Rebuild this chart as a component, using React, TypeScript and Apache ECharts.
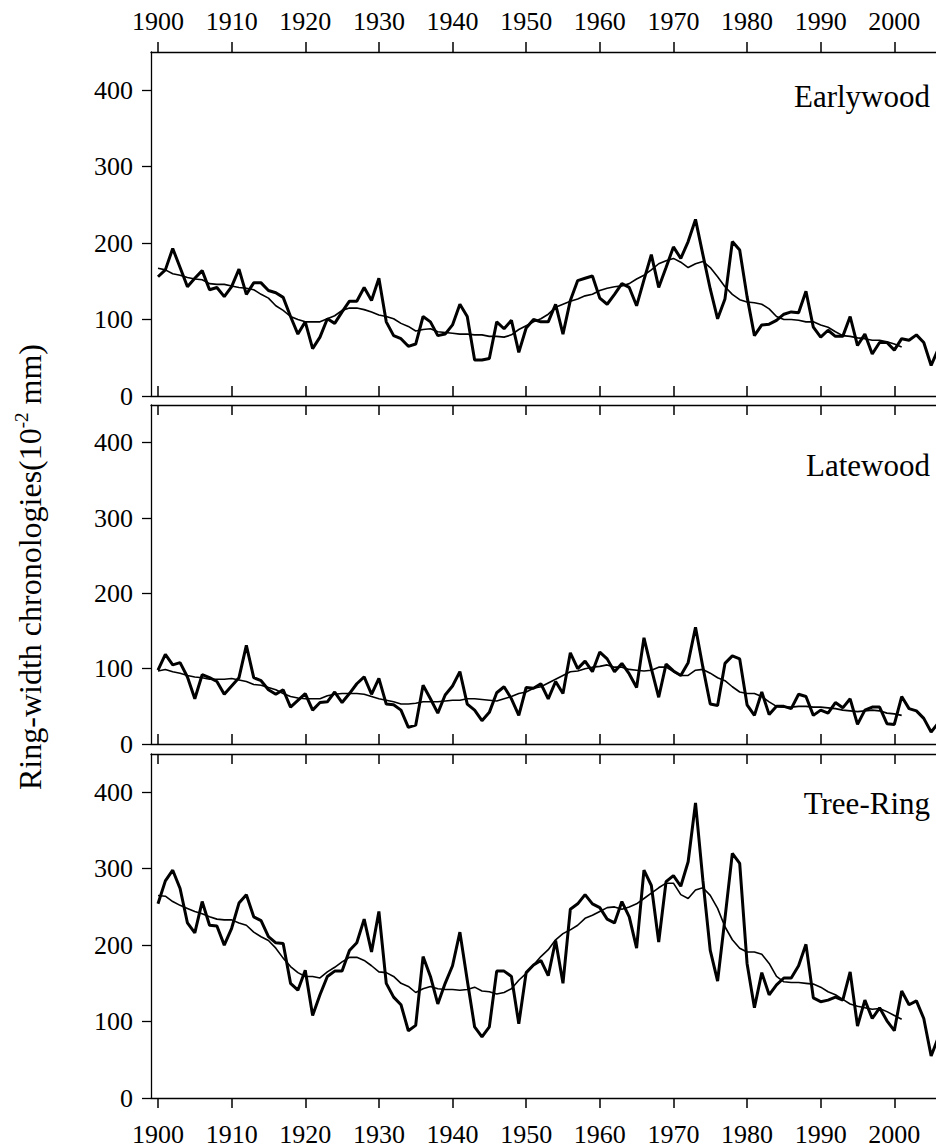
import React, { useEffect, useRef } from "react";
import * as echarts from "echarts";

const FIRST_YEAR = 1900;
const X_MIN = 1899.05;
const X_MAX = 2005.66;
const TICK_YEARS = [1900, 1910, 1920, 1930, 1940, 1950, 1960, 1970, 1980, 1990, 2000];
const Y_TICKS = [0, 100, 200, 300, 400];

// Raw ring-width chronologies 1900-2006
const earlywood = [
  156, 165, 193, 168, 143, 154, 164, 139, 142, 130,
  143, 166, 133, 148, 148, 138, 135, 129, 104, 81,
  97, 62, 77, 101, 95, 110, 124, 124, 142, 125,
  154, 97, 79, 75, 65, 68, 104, 97, 79, 81,
  93, 120, 104, 47, 47, 49, 97, 88, 99, 57,
  89, 100, 97, 97, 120, 81, 125, 151, 154, 157,
  128, 120, 133, 147, 142, 118, 152, 185, 142, 168,
  195, 180, 202, 231, 185, 140, 101, 127, 202, 191,
  130, 79, 93, 94, 99, 107, 110, 109, 137, 90,
  77, 86, 78, 78, 104, 66, 81, 55, 70, 70,
  60, 75, 73, 80, 70, 40, 62,
];
const earlywoodSmooth = [
  167, 165, 160, 158, 155, 153, 152, 147, 146, 146,
  144, 142, 141, 139, 133, 128, 118, 112, 104, 100,
  97, 97, 97, 101, 105, 112, 115, 115, 113, 110,
  106, 104, 101, 95, 91, 85, 87, 88, 84, 83,
  82, 81, 81, 80, 80, 78, 78, 77, 80, 87,
  92, 97, 101, 107, 116, 120, 124, 127, 131, 133,
  138, 141, 143, 144, 147, 153, 158, 165, 173, 177,
  180, 175, 168, 173, 176, 168, 156, 143, 133, 126,
  123, 122, 120, 114, 104, 100, 100, 99, 97, 97,
  93, 90, 84, 79, 78, 76, 75, 73, 73, 71,
  68, 64,
];
const latewood = [
  98, 119, 105, 108, 89, 60, 92, 88, 83, 66,
  77, 88, 131, 88, 84, 72, 66, 72, 49, 58,
  67, 45, 55, 56, 69, 55, 67, 80, 89, 66,
  87, 53, 52, 45, 22, 25, 78, 60, 41, 65,
  77, 96, 53, 45, 31, 42, 68, 76, 60, 38,
  75, 74, 80, 60, 83, 67, 121, 100, 110, 96,
  122, 113, 96, 107, 93, 75, 141, 100, 62, 106,
  97, 91, 108, 155, 102, 53, 51, 107, 117, 113,
  52, 38, 69, 39, 50, 50, 47, 66, 63, 38,
  45, 41, 55, 48, 60, 26, 45, 49, 49, 27,
  26, 63, 47, 44, 34, 16, 28,
];
const latewoodSmooth = [
  97, 99, 96, 94, 91, 89, 88, 86, 86, 86,
  87, 85, 83, 79, 78, 75, 72, 67, 63, 61,
  60, 60, 60, 64, 66, 67, 67, 67, 66, 63,
  60, 58, 56, 53, 53, 54, 56, 56, 56, 57,
  58, 58, 60, 60, 59, 58, 57, 60, 63, 67,
  69, 74, 76, 81, 86, 91, 96, 97, 100, 102,
  103, 105, 102, 102, 99, 98, 97, 98, 102, 102,
  96, 91, 91, 98, 99, 94, 88, 84, 76, 69,
  67, 67, 63, 56, 50, 49, 49, 50, 50, 49,
  49, 48, 47, 45, 44, 43, 44, 45, 44, 41,
  40, 38,
];
const treeRing = [
  254, 284, 298, 274, 229, 216, 257, 226, 225, 200,
  222, 255, 266, 237, 232, 211, 203, 202, 150, 141,
  167, 108, 135, 159, 166, 166, 193, 203, 234, 191,
  244, 150, 132, 122, 88, 95, 185, 159, 123, 150,
  173, 217, 154, 93, 80, 93, 166, 166, 159, 97,
  164, 174, 180, 160, 206, 150, 247, 254, 266, 254,
  249, 234, 229, 257, 237, 196, 298, 278, 204, 283,
  291, 277, 309, 386, 285, 193, 153, 235, 320, 307,
  176, 118, 164, 135, 148, 157, 157, 173, 201, 131,
  126, 128, 132, 128, 165, 94, 128, 104, 118, 101,
  88, 140, 122, 127, 104, 55, 80,
];
const treeRingSmooth = [
  265, 264, 257, 252, 248, 244, 241, 237, 234, 233,
  233, 229, 226, 217, 211, 206, 196, 183, 172, 164,
  159, 159, 157, 165, 171, 178, 184, 184, 180, 173,
  165, 164, 159, 150, 146, 138, 143, 146, 143, 142,
  142, 141, 142, 145, 140, 139, 136, 138, 143, 154,
  163, 174, 185, 194, 207, 215, 220, 226, 235, 239,
  244, 249, 250, 247, 250, 254, 261, 268, 275, 281,
  281, 266, 261, 272, 275, 265, 248, 224, 207, 196,
  191, 191, 188, 176, 159, 152, 151, 151, 150, 149,
  145, 139, 135, 129, 123, 120, 118, 116, 117, 113,
  108, 103,
];

const panelNames = ["Earlywood", "Latewood", "Tree-Ring"];

const FONT = "Liberation Serif";

const toPairs = (vals: number[]) => vals.map((v, i) => [FIRST_YEAR + i, v]);

export default function App() {
  const ref = useRef<HTMLDivElement>(null);

  useEffect(() => {
    if (!ref.current) return;
    const chart = echarts.init(ref.current, undefined, { renderer: "svg" });

    const grids = [
      { left: 151, right: 0, top: 52, height: 344 },
      { left: 151, right: 0, top: 405, height: 339 },
      { left: 151, right: 0, top: 754, height: 344 },
    ];

    const axisLine = { show: true, onZero: false, lineStyle: { color: "#000", width: 1.3 } };
    const makeX = (gridIndex: number, position: string, inside: boolean, showLabel: boolean, margin: number) => ({
      type: "value",
      gridIndex,
      position,
      min: X_MIN,
      max: X_MAX,
      axisLine,
      axisTick: {
        show: true,
        inside,
        length: 10,
        customValues: TICK_YEARS,
        lineStyle: { color: "#000", width: 1.5 },
      },
      axisLabel: {
        show: showLabel,
        customValues: TICK_YEARS,
        color: "#000",
        fontFamily: FONT,
        fontSize: 26,
        margin,
        formatter: (v: number) => String(v),
      },
      splitLine: { show: false },
    });

    const xAxes = [
      makeX(0, "top", false, true, 18),
      makeX(0, "bottom", true, false, 8),
      makeX(1, "top", true, false, 8),
      makeX(1, "bottom", true, false, 8),
      makeX(2, "top", true, false, 8),
      makeX(2, "bottom", false, true, 23),
    ];

    const yAxes = [0, 1, 2].map((g) => ({
      type: "value",
      gridIndex: g,
      min: 0,
      max: 450,
      axisLine,
      axisTick: {
        show: true,
        inside: false,
        length: 9,
        customValues: Y_TICKS,
        lineStyle: { color: "#000", width: 1.3 },
      },
      axisLabel: {
        show: true,
        customValues: Y_TICKS,
        color: "#000",
        fontFamily: FONT,
        fontSize: 26,
        margin: 18,
      },
      splitLine: { show: false },
    }));

    const raw = [earlywood, latewood, treeRing];
    const smooth = [earlywoodSmooth, latewoodSmooth, treeRingSmooth];
    const bottomAxisIdx = [1, 3, 5];

    const series: any[] = [];
    [0, 1, 2].forEach((g) => {
      series.push({
        name: panelNames[g] + " raw",
        type: "line",
        xAxisIndex: bottomAxisIdx[g],
        yAxisIndex: g,
        data: toPairs(raw[g]),
        symbol: "none",
        clip: true,
        lineStyle: { color: "#000", width: 3 },
        z: 3,
      });
      series.push({
        name: panelNames[g] + " smooth",
        type: "line",
        xAxisIndex: bottomAxisIdx[g],
        yAxisIndex: g,
        data: toPairs(smooth[g]),
        symbol: "none",
        clip: true,
        lineStyle: { color: "#000", width: 1.6 },
        z: 4,
      });
    });

    const labelY = [96, 465, 803];
    const graphic: any[] = panelNames.map((name, i) => ({
      type: "text",
      right: 6,
      y: labelY[i],
      style: {
        text: name,
        fill: "#000",
        fontFamily: FONT,
        fontSize: 31,
        align: "right",
        verticalAlign: "middle",
      },
    }));
    graphic.push({
      type: "text",
      x: 30,
      y: 567,
      rotation: Math.PI / 2,
      style: {
        text: "{a|Ring-width chronologies(10}{s|-2}{a| mm)}",
        fontFamily: FONT,
        fontSize: 32,
        align: "center",
        verticalAlign: "middle",
        fill: "#000",
        rich: {
          a: { fontFamily: FONT, fontSize: 32, lineHeight: 36, fill: "#000" },
          s: { fontFamily: FONT, fontSize: 19, verticalAlign: "top", fill: "#000" },
        },
      },
    });

    chart.setOption({
      animation: false,
      backgroundColor: "#fff",
      grid: grids,
      xAxis: xAxes,
      yAxis: yAxes,
      series,
      graphic,
    });

    return () => chart.dispose();
  }, []);

  return (
    <div
      ref={ref}
      style={{ position: "absolute", left: 0, top: 0, width: 936, height: 1148 }}
    />
  );
}
